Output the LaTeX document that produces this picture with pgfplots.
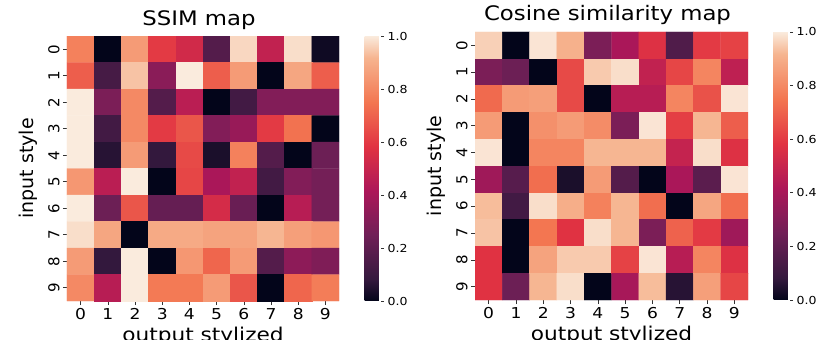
\documentclass[border=0pt]{standalone}
\usepackage{pgfplots}
\pgfplotsset{compat=1.18}
\usepackage{fontspec}
\setmainfont{DejaVu Sans}[FakeStretch=1.14]
\newfontfamily\plainfont{DejaVu Sans}
\pgfplotsset{
  colormap={rocket}{rgb255(0pt)=(3,5,26); rgb255(83pt)=(53,25,62); rgb255(250pt)=(112,31,87); rgb255(417pt)=(173,23,89); rgb255(583pt)=(225,51,66); rgb255(750pt)=(243,118,81); rgb255(917pt)=(246,180,143); rgb255(1000pt)=(250,235,221)},
  heat/.style={
    scale only axis,
    colormap name=rocket,
    point meta min=0, point meta max=1,
    enlargelimits=false,
    xmin=-0.5, xmax=9.5, ymin=-0.5, ymax=9.5,
    y dir=reverse,
    axis line style={draw=none},
    tick pos=left, tick align=outside,
    major tick length=4pt,
    tick style={color=black!80, line width=0.6pt},
    xtick={0,...,9}, ytick={0,...,9},
    /pgf/number format/assume math mode=true,
    xticklabel style={font=\fontsize{15}{15}\selectfont},
    yticklabel style={font=\plainfont\fontsize{15}{15}\selectfont, rotate=90, anchor=south},
    xlabel={output stylized},
    ylabel={input style},
    xlabel style={font=\fontsize{19}{19}\selectfont},
    ylabel style={font=\plainfont\fontsize{19}{19}\selectfont, yshift=4pt},
    title style={font=\fontsize{20}{20}\selectfont, at={(0.5,1)}, anchor=base, yshift=5pt, xshift=-4pt},
    colorbar,
    colorbar style={
      scale only axis,
      width=16pt,
      at={(parent axis.north east)}, anchor=north west, xshift=17pt,
      axis line style={draw=none},
      ytick={0,0.2,0.4,0.6,0.8,1.0},
      tick pos=right, tick align=outside,
      major tick length=3.5pt,
      tick style={color=black!80, line width=0.6pt},
      yticklabel style={font=\fontsize{11}{11}\selectfont, /pgf/number format/fixed, /pgf/number format/fixed zerofill, /pgf/number format/precision=1},
      /pgf/number format/assume math mode=true,
    },
  },
}
\begin{document}
\begin{tikzpicture}
\path[use as bounding box] (0,0) rectangle (830pt,340pt);
\begin{axis}[heat, width=272pt, height=265pt, at={(67pt,39pt)}, anchor=south west, title={SSIM map}]
\addplot[matrix plot*, mesh/cols=10, point meta=explicit] coordinates {
(0,0)[0.78] (1,0)[0.00] (2,0)[0.85] (3,0)[0.60] (4,0)[0.53] (5,0)[0.17] (6,0)[0.97] (7,0)[0.48] (8,0)[0.98] (9,0)[0.02]
(0,1)[0.69] (1,1)[0.13] (2,1)[0.94] (3,1)[0.32] (4,1)[1.00] (5,1)[0.69] (6,1)[0.85] (7,1)[0.00] (8,1)[0.88] (9,1)[0.69]
(0,2)[1.00] (1,2)[0.28] (2,2)[0.80] (3,2)[0.17] (4,2)[0.46] (5,2)[0.00] (6,2)[0.12] (7,2)[0.30] (8,2)[0.30] (9,2)[0.30]
(0,3)[1.00] (1,3)[0.12] (2,3)[0.80] (3,3)[0.60] (4,3)[0.67] (5,3)[0.30] (6,3)[0.36] (7,3)[0.60] (8,3)[0.74] (9,3)[0.00]
(0,4)[1.00] (1,4)[0.06] (2,4)[0.85] (3,4)[0.08] (4,4)[0.64] (5,4)[0.04] (6,4)[0.78] (7,4)[0.17] (8,4)[0.00] (9,4)[0.24]
(0,5)[0.84] (1,5)[0.46] (2,5)[1.00] (3,5)[0.00] (4,5)[0.63] (5,5)[0.41] (6,5)[0.48] (7,5)[0.12] (8,5)[0.30] (9,5)[0.26]
(0,6)[1.00] (1,6)[0.24] (2,6)[0.67] (3,6)[0.22] (4,6)[0.22] (5,6)[0.54] (6,6)[0.23] (7,6)[0.00] (8,6)[0.45] (9,6)[0.26]
(0,7)[0.98] (1,7)[0.88] (2,7)[0.00] (3,7)[0.89] (4,7)[0.89] (5,7)[0.87] (6,7)[0.87] (7,7)[0.92] (8,7)[0.86] (9,7)[0.84]
(0,8)[0.85] (1,8)[0.08] (2,8)[1.00] (3,8)[0.00] (4,8)[0.84] (5,8)[0.71] (6,8)[0.85] (7,8)[0.17] (8,8)[0.33] (9,8)[0.29]
(0,9)[0.80] (1,9)[0.45] (2,9)[1.00] (3,9)[0.76] (4,9)[0.76] (5,9)[0.85] (6,9)[0.67] (7,9)[0.00] (8,9)[0.71] (9,9)[0.77]
};
\end{axis}
\begin{axis}[heat, width=273pt, height=268pt, at={(475pt,40pt)}, anchor=south west, title={Cosine similarity map}]
\addplot[matrix plot*, mesh/cols=10, point meta=explicit] coordinates {
(0,0)[0.96] (1,0)[0.00] (2,0)[0.99] (3,0)[0.91] (4,0)[0.28] (5,0)[0.41] (6,0)[0.57] (7,0)[0.16] (8,0)[0.60] (9,0)[0.62]
(0,1)[0.28] (1,1)[0.24] (2,1)[0.00] (3,1)[0.64] (4,1)[0.95] (5,1)[0.98] (6,1)[0.48] (7,1)[0.63] (8,1)[0.79] (9,1)[0.47]
(0,2)[0.72] (1,2)[0.85] (2,2)[0.86] (3,2)[0.64] (4,2)[0.00] (5,2)[0.45] (6,2)[0.45] (7,2)[0.79] (8,2)[0.66] (9,2)[0.99]
(0,3)[0.85] (1,3)[0.00] (2,3)[0.82] (3,3)[0.85] (4,3)[0.81] (5,3)[0.28] (6,3)[0.99] (7,3)[0.61] (8,3)[0.92] (9,3)[0.69]
(0,4)[0.99] (1,4)[0.00] (2,4)[0.79] (3,4)[0.79] (4,4)[0.92] (5,4)[0.92] (6,4)[0.92] (7,4)[0.49] (8,4)[0.98] (9,4)[0.57]
(0,5)[0.38] (1,5)[0.18] (2,5)[0.73] (3,5)[0.04] (4,5)[0.85] (5,5)[0.17] (6,5)[0.00] (7,5)[0.41] (8,5)[0.19] (9,5)[0.99]
(0,6)[0.93] (1,6)[0.12] (2,6)[0.98] (3,6)[0.90] (4,6)[0.78] (5,6)[0.92] (6,6)[0.73] (7,6)[0.00] (8,6)[0.88] (9,6)[0.73]
(0,7)[0.94] (1,7)[0.00] (2,7)[0.75] (3,7)[0.58] (4,7)[0.98] (5,7)[0.92] (6,7)[0.28] (7,7)[0.70] (8,7)[0.60] (9,7)[0.38]
(0,8)[0.58] (1,8)[0.00] (2,8)[0.87] (3,8)[0.95] (4,8)[0.95] (5,8)[0.62] (6,8)[0.99] (7,8)[0.45] (8,8)[0.79] (9,8)[0.57]
(0,9)[0.58] (1,9)[0.24] (2,9)[0.92] (3,9)[0.98] (4,9)[0.00] (5,9)[0.40] (6,9)[0.93] (7,9)[0.06] (8,9)[0.86] (9,9)[0.63]
};
\end{axis}
\end{tikzpicture}
\end{document}
